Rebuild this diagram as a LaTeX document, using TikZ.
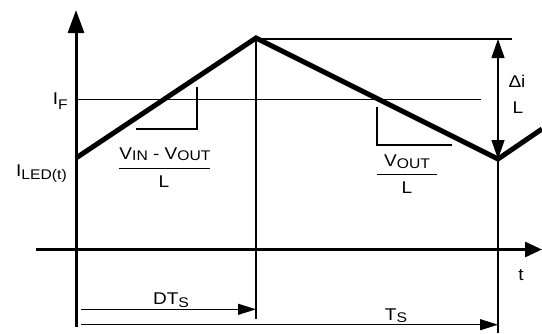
\documentclass[tikz,border=0pt]{standalone}
\usepackage{fontspec}
\setmainfont[FakeStretch=1.12]{Liberation Sans}
\usetikzlibrary{arrows.meta}
\newcommand{\lsub}[2][-3pt]{\raisebox{#1}{\fontsize{14}{14}\selectfont #2}}
\begin{document}
\begin{tikzpicture}[x=1pt,y=-1pt,
  font=\fontsize{17}{17}\selectfont,
  axisline/.style={line width=3pt},
  thinline/.style={line width=1.3pt},
  waveline/.style={line width=5pt, line join=miter},
  lbl/.style={inner sep=0pt, anchor=base},
  bigtip/.tip={Triangle[length=23pt,width=16pt]},
  medtip/.tip={Triangle[length=19pt,width=13pt]},
  smalltip/.tip={Triangle[length=18pt,width=11pt]}]
\useasboundingbox (0,0) rectangle (542,333);
% coordinates
\coordinate (ybot) at (76,327);
\coordinate (ytop) at (76,10);
\coordinate (xl) at (36,249.5);
\coordinate (xr) at (542,249.5);
\coordinate (start) at (76,158);
\coordinate (peak) at (256,38);
\coordinate (valley) at (498,159);
\coordinate (rise) at (542,129);
% axes
\draw[axisline,-{bigtip}] (ybot) -- (ytop);
\draw[axisline,-{Triangle[length=17pt,width=15pt]}] (xl) -- (xr);
% reference lines
\coordinate (vpk) at (256,319);
\coordinate (vvl) at (498,333);
\coordinate (topr) at (512,39);
\coordinate (ifl) at (76,99.5);
\coordinate (ifr) at (481,99.5);
\draw[thinline] (256,38) -- (vpk);
\draw[thinline] (valley) -- (vvl);
\draw[thinline] (256,39) -- (topr);
\draw[thinline] (ifl) -- (ifr);
% slope markers
\draw[thinline] (136,129) -- (197,129) -- (197,87);
\draw[thinline] (377,107) -- (377,145) -- (452,145);
% waveform
\draw[waveline] (start) -- (peak) -- (valley) -- (rise);
% delta arrow
\coordinate (dtop) at (498,39);
\coordinate (dbot) at (498,159);
\draw[thinline,{medtip}-{medtip}] (dtop) -- (dbot);
\node[lbl] (di) at (517,87) {Δi};
\node[lbl] (dl) at (518,113.5) {L};
% labels
\node[inner sep=0pt, anchor=base east] (IF) at (68,104) {I\lsub[-5pt]{F}};
\node[inner sep=0pt, anchor=base east] (ILED) at (67,176) {I\lsub{LED(t)}};
% fraction 1
\node[lbl] (num1) at (165,159) {V\lsub[-1.5pt]{IN} - V\lsub[-1.5pt]{OUT}};
\draw[line width=1.5pt] (119,168.3) -- (210,168.3);
\node[lbl] (den1) at (164,187) {L};
% fraction 2
\node[lbl] (num2) at (407,166) {V\lsub[-2.5pt]{OUT}};
\draw[line width=1.5pt] (377,174.3) -- (437,174.3);
\node[lbl] (den2) at (407,193) {L};
% time labels
\node[lbl] (t) at (521,280) {t};
\node[lbl] (dts) at (171,304) {DT\lsub{S}};
\node[lbl] (ts) at (396,320) {T\lsub[-2.5pt]{S}};
% time arrows
\coordinate (a0) at (81,309.3);
\coordinate (a1) at (256,309.3);
\coordinate (b0) at (81,324.7);
\coordinate (b1) at (498,324.7);
\draw[thinline,-{smalltip}] (a0) -- (a1);
\draw[thinline,-{smalltip}] (b0) -- (b1);
\end{tikzpicture}
\end{document}
